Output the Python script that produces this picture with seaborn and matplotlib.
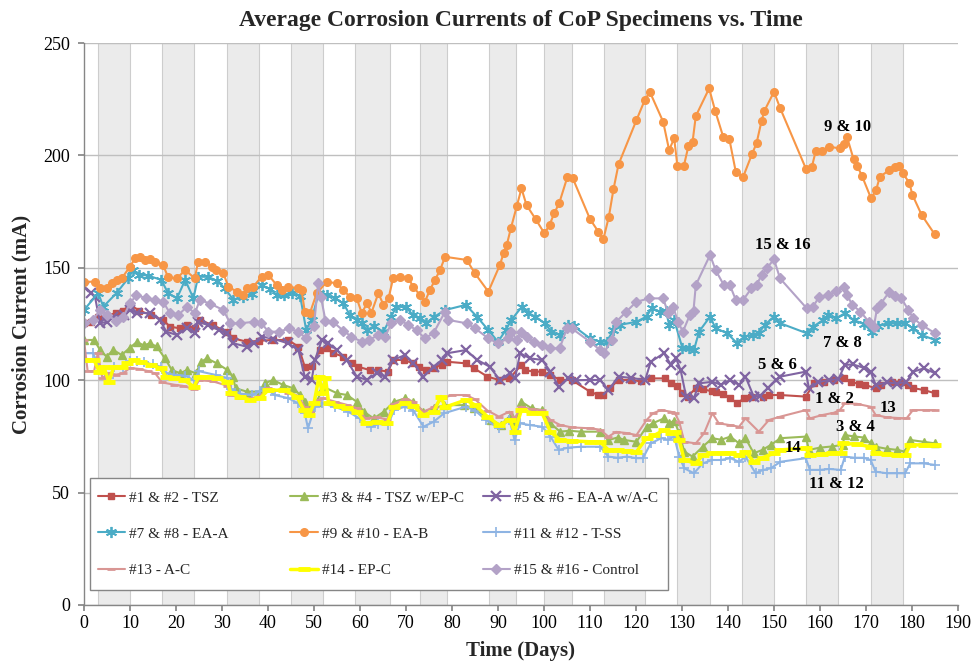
import numpy as np
import pandas as pd
import matplotlib
matplotlib.use("Agg")
import matplotlib.pyplot as plt
from matplotlib.patches import Rectangle
import seaborn as sns

# -----------------------------
# Data: (day, current mA)
# -----------------------------
tsz = [(0, 125.3), (1.5, 126), (3, 128), (5, 128.5), (7, 130), (8.5, 131), (10, 133.5), (12, 131),
       (14.5, 129), (17.2, 126.8), (18.7, 123.8), (20.8, 123.1), (22.4, 124.5), (24.1, 123),
       (25.2, 126.8), (28, 124.5), (31, 121.6), (32.5, 118.6), (35.4, 117.1), (38, 117.5),
       (41, 117.9), (44.4, 117.9), (46.6, 114.9), (48, 106), (49.5, 106.5), (51.3, 113.4),
       (52.8, 114.2), (54.2, 112), (56.4, 110.5), (58.2, 107.5), (59.6, 106), (62.1, 104.5),
       (64, 104.5), (66.1, 103.8), (67.2, 109), (69.5, 109), (71.6, 107.5), (72.8, 106),
       (74.3, 104.5), (76, 105.5), (77.8, 106.8), (79, 108.2), (83, 107.5), (84.8, 105.3),
       (87.7, 101.6), (90.2, 100.1), (92.5, 100.8), (95.1, 106.8), (95.8, 104.5), (97.8, 103.8),
       (99.6, 103.8), (101.4, 102.3), (103.5, 100.1), (106, 100.1), (110, 94.9), (111.8, 93.4),
       (112.9, 93.4), (114.3, 96.4), (116.2, 100.1), (119, 100.1), (121, 99.5), (123.2, 100.8),
       (126.3, 100.8), (127.7, 98.6), (129, 97.5), (130.1, 94.2), (131.2, 92.7), (133, 96.4),
       (134.5, 96), (136.6, 95), (137.3, 94.9), (139, 94), (140.5, 92), (142, 89.7), (143.5, 92),
       (145.1, 92.7), (147.5, 92.7), (149, 93.4), (151.4, 93.4), (156.9, 92.7), (158.7, 98.6),
       (160.9, 99.3), (163, 100), (165.2, 100.8), (166.8, 99), (168.5, 98.5), (169.8, 97.9),
       (172.1, 96.4), (173.2, 98), (175.7, 99.3), (177.5, 99.3), (179.2, 97.9), (180.3, 96.5),
       (182.6, 95.6), (185, 94.2)]

tsz_epc = [(0, 117.9), (2.2, 117.9), (3.5, 113.4), (4.9, 110.5), (6.4, 113.4), (8.2, 111.2),
           (10, 114.5), (11.5, 117), (13, 115.5), (14.3, 116.4), (15.8, 115), (17.6, 109.7),
           (19.1, 104.5), (20.9, 103.1), (22.4, 104.5), (24.3, 103.1), (25.5, 108.2), (26.7, 109.7),
           (28.9, 107.5), (31.2, 104.5), (32.3, 101.6), (33, 96.4), (35.4, 94.9), (38.3, 94.9),
           (39.3, 98.6), (41.1, 100.1), (43.3, 97.9), (45.5, 96.4), (47, 93.4), (48, 90.4),
           (49.1, 87.5), (50.6, 90.4), (52, 97.1), (55, 94.2), (57.2, 93.4), (59.3, 90.4),
           (60.8, 86), (63, 83), (65.2, 86), (67.4, 90.4), (69.8, 91.9), (71.6, 90.4), (73.8, 86),
           (76, 87.5), (78.3, 88.9), (82.6, 88.9), (84.8, 87.5), (88.4, 82.3), (90.6, 80.1),
           (92.8, 84.5), (94, 82), (95.1, 90.4), (97.3, 87.5), (99.6, 86.7), (101.4, 80.8),
           (103.5, 77.1), (105.5, 77.5), (108, 77.1), (112.2, 77.1), (114, 73.4), (116, 74.5),
           (117.5, 73.4), (120.1, 72.6), (122.3, 79.3), (123.8, 81), (126.1, 83), (127.2, 80.8),
           (128.3, 82), (129.4, 76.4), (130.5, 68.2), (132.3, 66), (134.5, 70.4), (136.6, 74.2),
           (138.5, 73.5), (140.5, 74.9), (142.4, 71.9), (143.8, 74.2), (145.6, 67.5), (147.5, 69),
           (149.3, 71.2), (151.4, 74.2), (156.9, 74.9), (157.6, 69), (160, 70), (162.5, 70.5),
           (164.9, 71.2), (165.4, 75.6), (167.3, 75), (169.5, 74.5), (171, 71.9), (172.1, 70.4),
           (174.5, 69.5), (176.8, 69), (178.5, 68.2), (179.6, 73.4), (182.5, 72.6), (185, 71.9)]

eaa_ac = [(0, 141.6), (1.5, 139), (2.4, 137.1), (3.5, 125.3), (5, 126), (6.4, 128.3), (8.7, 129),
          (10, 131.2), (11.5, 130), (14.3, 129.8), (16.5, 126.8), (17.9, 121.6), (20.2, 120.1),
          (22.4, 123.1), (24.1, 120.9), (24.8, 126), (27, 124.5), (29.3, 122.3), (31, 120.9),
          (32.5, 116.4), (35.4, 114.9), (37, 116.5), (38.6, 119.4), (41, 118.5), (44.4, 116.4),
          (46.6, 113.4), (48, 101.6), (49.5, 100.1), (50.2, 108.9), (51.7, 117.9), (53, 116.5),
          (55, 113.4), (57.1, 109), (59.3, 101.6), (61.5, 100.1), (63.6, 103.1), (65.4, 101.6),
          (67.2, 109), (69.8, 111.2), (71.6, 107.5), (73.8, 101.6), (76, 106), (77.8, 109),
          (79, 112), (83, 113.4), (85.5, 109), (88.2, 106), (90.4, 100.1), (92.6, 103.1),
          (93.7, 100.8), (94.8, 112), (97, 109.7), (99.6, 109), (101.4, 103.8), (103.2, 97.1),
          (105.3, 100.8), (107, 100), (110, 100.1), (112.2, 100.1), (114, 95.6), (116.2, 101.6),
          (119, 101), (122, 100.1), (123.2, 108.2), (126.1, 112), (127.6, 106.8), (128.7, 109.7),
          (129.7, 104.5), (130.9, 92.7), (132.6, 92), (133.7, 98.6), (136.6, 99.3), (138.5, 98),
          (140.5, 100.1), (142.4, 97.9), (143.8, 101.6), (145.6, 92.7), (147, 93), (148.6, 96.4),
          (150.4, 100.1), (151.4, 101.6), (156.9, 103.8), (157.6, 96.4), (159.5, 99),
          (161.9, 100.1), (164, 100.5), (165.4, 106.8), (167.2, 107), (169.5, 105.5), (171, 103.8),
          (172.1, 97.9), (174.5, 99), (176.8, 98.5), (178.8, 99.3), (180.3, 103.8), (182.6, 105.3),
          (185, 103.1)]

eaa = [(0, 131.2), (3.1, 138.8), (4.2, 132.7), (7.1, 138.8), (9.6, 145.3), (10.7, 149), (12, 147),
       (14, 146.5), (16.8, 144.6), (18.3, 138.7), (20.2, 136.4), (22, 144.6), (23.8, 136.4),
       (24.8, 146), (27, 146), (29, 144), (30.6, 140.9), (32.5, 135.7), (34.6, 137.1), (36.5, 138.5),
       (38.6, 142.3), (40.5, 140.5), (41.9, 137.9), (43.5, 138), (45.3, 138.7), (47, 137.5),
       (48.3, 122.3), (49.5, 127), (51, 138.7), (52.8, 138), (54.5, 136.5), (56.4, 134.2),
       (57.8, 129), (59.3, 127), (60.4, 125.3), (61.5, 122.3), (63, 124), (65.1, 121.6),
       (66.8, 128.3), (67.9, 132.7), (70, 132.5), (71.5, 129), (73, 127.5), (74.3, 125.3),
       (76, 128), (78.5, 131.2), (83, 133.5), (85.4, 128.3), (87.9, 122.3), (90, 117.1),
       (91.7, 122.3), (92.9, 126.8), (95.2, 132.7), (96.5, 130), (98.1, 128.3), (100.2, 125.3),
       (101.6, 121.6), (103.4, 120.1), (105.3, 124.6), (106.5, 124), (110, 118.6), (112.2, 117.1),
       (113.6, 117.1), (115.1, 122.3), (116.5, 124.6), (120.1, 126), (122.3, 128.3), (123.4, 132),
       (125.2, 130.5), (126.5, 131), (127.2, 124.6), (128.3, 126.8), (130.1, 114.2),
       (131.6, 114.2), (132.6, 113.4), (133.7, 121.6), (136.1, 128.3), (137.3, 123.1),
       (139.8, 120.9), (142, 116.4), (143.5, 119.4), (145.5, 120), (146.7, 121), (148, 124.6),
       (150, 128.3), (151.4, 125.3), (157.1, 120.9), (158.5, 123.8), (160.7, 126.8), (161.8, 129),
       (163.5, 127.5), (165.4, 129.8), (167.3, 126.8), (169.5, 125), (171.3, 121.6), (172.7, 124),
       (174.8, 125.5), (176.8, 125.3), (178.5, 125.5), (180.2, 123), (182.1, 120.1), (185, 117.9)]

eab = [(0, 143.8), (2.4, 143.8), (3.5, 140.9), (4.9, 140.9), (6, 143.1), (7.1, 144.6), (8.2, 145.3),
       (10, 150.5), (11.1, 154.2), (12.2, 154.7), (13.3, 153.5), (14.3, 153.8), (15.4, 152.7),
       (17.2, 151.2), (18.3, 145.8), (20.2, 145.3), (22, 149), (24.1, 145.3), (24.8, 152.7),
       (26.3, 152.7), (27.8, 150.5), (28.8, 149), (30.3, 147.5), (31.4, 141.6), (33.2, 139.4),
       (34.6, 137.9), (35.4, 140.9), (36.8, 141.6), (38.6, 146), (40.1, 146.8), (41.9, 142.3),
       (43, 140.1), (44.4, 141.6), (46.6, 140.9), (47.3, 140.1), (48, 130.5), (49.1, 129.8),
       (50.6, 138.7), (52.8, 143.8), (54.9, 143.1), (56.4, 140.1), (57.8, 137.1), (59.3, 136.4),
       (60.4, 129.8), (61.5, 134.2), (62.5, 130.1), (64, 138.7), (65.1, 133.5), (66.2, 136.4),
       (67.2, 145.3), (68.7, 146), (70.5, 145.3), (71.6, 141.6), (73, 137.9), (74.1, 134.9),
       (75.2, 140.1), (76.3, 144.6), (77.4, 149), (78.5, 154.9), (83.2, 153.5), (85, 147.5),
       (87.9, 139.4), (90.4, 151.2), (91.2, 156.4), (91.9, 160.1), (92.8, 167.6), (94.1, 177.5),
       (95.1, 185.3), (96.2, 177.9), (98.2, 171.6), (100.1, 165.3), (101.2, 169), (102.2, 174.2),
       (103.3, 178.7), (105.1, 190.5), (106.2, 190.1), (110, 171.7), (111.8, 166.1),
       (112.9, 162.7), (114.1, 172.7), (115.1, 184.9), (116.2, 196), (120.1, 215.7),
       (121.9, 224.6), (123, 228.3), (125.9, 215), (127.2, 202.4), (128.3, 207.6), (129, 195.3),
       (130.4, 195.3), (131.4, 204.2), (132.3, 206.1), (133, 217.5), (135.9, 229.8),
       (137.2, 219.9), (139, 208), (140.3, 207.2), (141.7, 192.6), (143.3, 190.5), (145.2, 200.5),
       (146.2, 205.4), (147.3, 215.4), (147.9, 219.8), (150, 228.3), (151.3, 221.2),
       (157, 193.8), (158.2, 194.7), (159.1, 202.1), (160.4, 202.1), (162, 203.9), (164.3, 203.1),
       (165.2, 205.1), (165.9, 208), (167.3, 198.3), (168.1, 195.3), (169.1, 191), (171.1, 180.9),
       (172.2, 184.6), (173, 190.5), (175.1, 193.5), (176.3, 195), (177.2, 195.3), (178, 192),
       (179.4, 187.9), (180.1, 182.4), (182.1, 173.5), (184.9, 165)]

tss = [(0, 112), (2, 112), (3.2, 106), (4.5, 103), (5.5, 101), (6.5, 106), (8.5, 106), (10, 108.5),
       (11.5, 108.5), (13, 108), (15, 107), (16.7, 106), (17.8, 103), (19.6, 102.5), (22, 102),
       (23.9, 100), (25, 104), (28.7, 102.3), (31.2, 101), (31.9, 96), (34, 94), (36.5, 93.5),
       (38.3, 95), (39.4, 96.4), (41.5, 93.4), (44.4, 92), (46.6, 89.7), (48, 85.3), (48.7, 78.6),
       (50.2, 88.2), (51.7, 89.7), (54.5, 88.2), (57.4, 86), (59.9, 83), (62.5, 79.3), (64, 80.5),
       (66.1, 80.1), (67.4, 86.7), (69.8, 88.2), (71.6, 86.5), (73.8, 79.3), (76, 81.5),
       (78.3, 85.3), (83, 88.2), (85, 86.5), (87.4, 82.3), (90.2, 78.6), (92.5, 82.3), (93.6, 73.4),
       (94.8, 80.8), (97, 80), (99.6, 79.3), (101.4, 74.9), (103.2, 69), (105.3, 70), (108, 70.4),
       (112.2, 70.4), (114, 66), (116, 65.5), (118, 66), (120.1, 65.3), (121.5, 65.3),
       (123.2, 71.9), (125.5, 74.2), (127, 73.5), (128.3, 74.9), (129.4, 66), (130.5, 60.8),
       (132.6, 58.6), (134.5, 63), (136.6, 64.5), (138.5, 64.5), (140.5, 65.3), (142.4, 63.7),
       (143.8, 66), (146, 58.6), (147.5, 60), (149.3, 60.8), (151.4, 63.7), (156.9, 65.3),
       (157.8, 60.1), (160, 60.1), (162, 60.5), (164.5, 60.1), (165.4, 66), (167.5, 65.5),
       (169.5, 65.5), (171, 64.5), (172.1, 59.3), (174.5, 58.6), (176.8, 58.6), (178.5, 58.6),
       (179.6, 63), (182.5, 63), (185, 62.3)]

ac = [(0, 118), (0.8, 104), (2.2, 104), (3, 112), (4, 101), (5.5, 103), (7, 102.5), (8.5, 103),
      (10, 105.5), (12, 105), (14, 104), (15.5, 103), (17, 99), (19.6, 98), (21.5, 97.5),
      (23.9, 96), (25, 100), (28, 99.5), (31.2, 97.5), (32, 93.5), (34, 92), (36.5, 92),
      (38.3, 93), (40, 96.5), (42, 95.5), (44.4, 94.5), (46.6, 93), (48, 88), (49.1, 86),
      (50.6, 91), (52, 92), (54.5, 90.5), (57.2, 89), (59.4, 87.5), (61.2, 83), (63.7, 83.5),
      (65.9, 82.5), (67.4, 89.5), (69.8, 91.5), (71.6, 90.5), (73.8, 86), (76, 88), (78, 92),
      (80, 93.4), (83, 93.4), (85, 91.5), (87.7, 86.5), (90.2, 83.8), (92.5, 86), (93.6, 83),
      (95.1, 88.2), (97.3, 87), (99.6, 86.7), (101.4, 82.3), (103.5, 80.1), (106, 79),
      (110, 78.6), (112.2, 78), (114, 74.9), (115.7, 77), (117.9, 76.5), (120.1, 75.6),
      (122.3, 82.3), (123.7, 85.3), (125.5, 86.7), (127.5, 86), (128.4, 85.5), (129.4, 81.5),
      (130.5, 72.6), (133, 71.9), (134.8, 76.4), (136.6, 85.3), (138, 80.8), (140.5, 80),
      (142.4, 79.3), (143.8, 83), (146.7, 77.1), (148.9, 82.3), (151.4, 83.8), (156.9, 86.7),
      (157.8, 83), (160.5, 84.5), (163, 85.5), (164.3, 86.7), (165.4, 89.7), (168, 89.5),
      (171, 88.2), (172.1, 84.5), (174.5, 83.5), (176.8, 83.2), (178.8, 83), (180.2, 86.7),
      (183, 86.7), (185, 86.7)]

epc = [(0, 109), (2.2, 109), (3.3, 103.8), (4.3, 106), (5.4, 99.3), (6.5, 106), (8.2, 106),
       (9.4, 107.5), (10.9, 109), (12.5, 108), (14.5, 106.8), (16.7, 105.3), (17.8, 101.6),
       (19.6, 100.8), (21.8, 100), (23.9, 97.1), (25, 101.6), (27, 101.5), (29, 100.8),
       (31.2, 99.3), (31.9, 94.2), (34, 92.7), (36.1, 91.2), (38.3, 92), (40, 95.5), (43.5, 95.6),
       (46.3, 92.7), (47.8, 86.7), (48.9, 84.5), (50, 89.7), (51.1, 101.6), (51.8, 94.2),
       (52.5, 101), (53.2, 89.7), (55.5, 88.5), (57.2, 87.5), (59.4, 86), (61.2, 80.8),
       (63.7, 81.5), (65.9, 80.8), (67.4, 88.2), (69.8, 89.7), (71.6, 88.5), (73.8, 84.5),
       (76, 86), (77.6, 92.7), (78.5, 88), (83, 91.2), (85, 89), (87.7, 83.8), (90.2, 80.1),
       (92.6, 82.3), (93.6, 77.1), (95.1, 86.7), (97.3, 85.5), (99.6, 85.3), (101.4, 77.1),
       (103.5, 73.4), (106, 73), (110, 72.6), (112.2, 72.5), (114, 69), (116, 69), (118, 68.5),
       (120.1, 68.2), (122.3, 74.2), (124, 75.5), (126.1, 77.8), (127.5, 76.5), (128.5, 77),
       (129.4, 73.4), (130.5, 64.5), (133, 63), (134.5, 66.7), (136.6, 67.5), (139, 67.5),
       (140.5, 67.5), (142.4, 66.7), (143.8, 68.2), (145.6, 63.7), (147.5, 65.5), (150, 67.5),
       (151.4, 69), (156.9, 69.7), (157.8, 66.7), (160.5, 67), (162.5, 67.5), (164.5, 67.5),
       (165, 71.9), (168, 71.5), (171, 70.4), (172.1, 67.5), (174.5, 67), (176.8, 66.7),
       (178.5, 66.7), (179.6, 71.2), (182.5, 71.2), (185, 71.2)]

control = [(0, 125.3), (2, 127), (3.5, 131.2), (5, 129), (7, 126.5), (8.5, 128), (10, 134.2),
           (11.4, 137.9), (13.5, 136.5), (15.5, 135.5), (17.2, 134.9), (18.7, 129.8), (20.5, 129),
           (22.4, 132.7), (24.1, 129.8), (25.2, 135.7), (27.5, 134), (30.3, 131.2), (31.8, 125.3),
           (34, 125.3), (37, 126), (38.5, 125.5), (40.1, 121.6), (42.5, 121.6), (44.5, 123),
           (46.6, 121.6), (48.3, 118.6), (50, 124), (50.9, 143.2), (51.5, 137.1), (52.5, 126.5),
           (54.1, 126), (56.4, 122), (58.1, 119.4), (60.4, 117.1), (62, 118), (64, 120),
           (65.4, 119), (66.8, 125.3), (68.7, 126.8), (70.5, 124.5), (72.3, 122.3), (74.1, 118.6),
           (76, 121), (78.5, 130.5), (79.2, 126.8), (83.2, 125.3), (85, 123.1), (87.9, 118.6),
           (90, 116.4), (92.2, 118.6), (92.9, 121.6), (94.1, 117.9), (95.1, 121.6), (96.2, 119),
           (97.9, 117), (99.6, 115.7), (101.2, 114.2), (103.4, 114.2), (105, 123.1), (106, 123.1),
           (110, 117.1), (112.2, 113.4), (113, 112), (114.7, 117.9), (115.7, 126), (117.9, 130.5),
           (120.1, 134.9), (122.9, 136.4), (125.9, 136.4), (127, 129.8), (128.1, 132.7),
           (129.1, 126), (130.2, 121.6), (131.7, 129), (132.5, 131), (133, 142.3), (136.1, 155.7),
           (137.3, 149), (139.1, 142.3), (140.4, 142.3), (141.7, 135.7), (143.3, 135.7),
           (145.1, 140.9), (146.2, 142.3), (147.3, 146.8), (148.5, 150), (150, 153.8),
           (151.3, 145.3), (157.1, 132), (158.5, 132.7), (159.8, 137.1), (161.8, 137.9),
           (163.5, 139.5), (165.2, 141.6), (165.9, 137.9), (167, 133.5), (168.8, 130.5),
           (170.6, 126), (171.7, 123.8), (172.4, 132), (173.2, 134), (175.1, 139.4),
           (176.2, 137.5), (177.7, 136.4), (179.2, 131.2), (180.3, 127.5), (182.1, 124.6),
           (185, 120.9)]

# wet/dry cycle bands (day start, day end)
band_start = [3, 17, 31, 45, 59, 73, 88, 100, 113, 129, 143, 157, 171]
band_end = [10, 24, 38, 52, 66.5, 79, 94, 106, 122, 136, 150, 164, 178]

# -----------------------------
# Series styling
# -----------------------------
series = [
    ("#1 & #2 - TSZ", tsz, "#C0504D", "s", 5, 1.0, 1.5),
    ("#3 & #4 - TSZ w/EP-C", tsz_epc, "#9BBB59", "^", 6, 1.0, 1.5),
    ("#5 & #6 - EA-A w/A-C", eaa_ac, "#8064A2", "x", 7, 1.6, 1.5),
    ("#7 & #8 - EA-A", eaa, "#4BACC6", (6, 2, 0), 8, 1.3, 1.5),
    ("#9 & #10 - EA-B", eab, "#F79646", "o", 5.5, 1.0, 1.5),
    ("#11 & #12 - T-SS", tss, "#8EB4E3", "+", 7, 1.2, 1.5),
    ("#13 - A-C", ac, "#D99694", "_", 6, 2.0, 1.5),
    ("#14 - EP-C", epc, "#FFFF00", "_", 8, 3.5, 2.5),
    ("#15 & #16 - Control", control, "#B3A2C7", "D", 5.5, 1.0, 1.5),
]

sns.set_theme(style="white")
plt.rcParams["font.family"] = ["Liberation Serif", "DejaVu Serif"]

fig = plt.figure(figsize=(9.73, 6.64), dpi=100)
ax = fig.add_axes([0.0863, 0.0889, 0.8983, 0.8463])

# shaded bands
widths = np.array(band_end) - np.array(band_start)
ax.bar(band_start, [250] * len(band_start), width=widths, align="edge",
       color="#EBEBEB", edgecolor="#CDCDCD", linewidth=0.8, zorder=0.3)

for label, pts, color, marker, ms, mew, lw in series:
    df = pd.DataFrame(pts, columns=["day", "mA"])
    sns.lineplot(data=df, x="day", y="mA", ax=ax, color=color, marker=marker,
                 markersize=ms, markeredgewidth=mew, markeredgecolor=color,
                 linewidth=lw, label=label, estimator=None, sort=False)

# annotations near series ends
notes = [("9 & 10", 165.9, 212.6), ("15 & 16", 152.0, 160.1), ("7 & 8", 164.8, 116.6),
         ("5 & 6", 150.7, 106.8), ("1 & 2", 163.2, 91.6), ("13", 174.8, 87.6),
         ("3 & 4", 167.6, 79.2), ("14", 154.1, 69.9), ("11 & 12", 163.6, 53.8)]
for txt, x, y in notes:
    ax.text(x, y, txt, ha="center", va="center", fontsize=12, fontweight="bold", color="black")

ax.set_xlim(0, 190)
ax.set_ylim(0, 250)
ax.set_xticks(range(0, 191, 10))
ax.set_yticks(range(0, 251, 50))
ax.tick_params(axis="both", labelsize=13, colors="black", bottom=True, left=True,
               direction="out", length=4, color="#868686")
ax.tick_params(axis="y", pad=6)
ax.yaxis.grid(True, color="#BFBFBF", linewidth=1)
ax.xaxis.grid(False)
ax.set_axisbelow("line")
for s in ["top", "right"]:
    ax.spines[s].set_visible(False)
for s in ["left", "bottom"]:
    ax.spines[s].set_color("#868686")
    ax.spines[s].set_linewidth(1)

ax.set_title("Average Corrosion Currents of CoP Specimens vs. Time",
             fontsize=17, fontweight="bold", pad=12)
ax.set_xlabel("Time (Days)", fontsize=15, fontweight="bold", labelpad=6)
ax.set_ylabel("Corrosion Current (mA)", fontsize=15, fontweight="bold", labelpad=8)

# legend: frame box + three equally spaced columns (row-major order like the original)
ax.add_patch(Rectangle((0.007, 0.027), 0.661, 0.199, transform=ax.transAxes,
                       facecolor="white", edgecolor="#868686", linewidth=1, zorder=4.9))
handles, labels = ax.get_legend_handles_labels()
ax.get_legend().remove()
col_x = [0.0103, 0.231, 0.451]
for c in range(3):
    idx = [c, c + 3, c + 6]
    leg = ax.legend([handles[i] for i in idx], [labels[i] for i in idx],
                    loc="upper left", bbox_to_anchor=(col_x[c], 0.211), frameon=False,
                    fontsize=11, handlelength=1.8, handletextpad=0.25, labelspacing=1.47,
                    borderaxespad=0, borderpad=0.3)
    leg.set_zorder(5)
    if c < 2:
        ax.add_artist(leg)

fig.savefig("out.png", dpi=100)
